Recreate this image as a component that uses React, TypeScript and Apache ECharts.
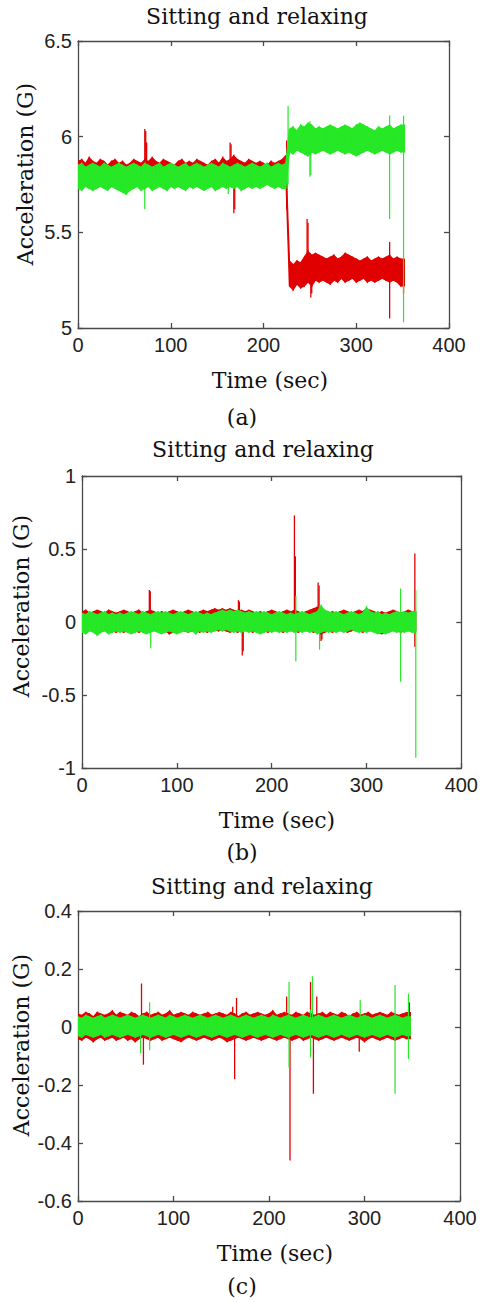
import React, { useEffect, useRef } from "react";
import * as echarts from "echarts";

// time step (seconds) between envelope samples; each sample gives a local max and min
const BIN_SEC = 4;

// ---------- Panel (a): local max / min per 4-s step (G) ----------
const A_RED_HI = [
  5.87, 5.88, 5.86, 5.89, 5.87, 5.86, 5.88, 5.87, 5.85, 5.87, 5.88,
  5.86, 5.87, 5.85, 5.86, 5.88, 5.87, 5.86, 5.88, 5.87, 5.89, 5.87,
  5.86, 5.88, 5.87, 5.86, 5.85, 5.87, 5.88, 5.86, 5.87, 5.86, 5.88,
  5.87, 5.86, 5.85, 5.87, 5.88, 5.86, 5.89, 5.87, 5.88, 5.9, 5.88,
  5.87, 5.86, 5.88, 5.87, 5.86, 5.87, 5.86, 5.85, 5.87, 5.86, 5.87,
  5.88, 5.9, 5.35, 5.33, 5.35, 5.34, 5.37, 5.4, 5.38, 5.39, 5.38,
  5.37, 5.36, 5.37, 5.38, 5.36, 5.37, 5.39, 5.38, 5.37, 5.36, 5.35,
  5.36, 5.37, 5.35, 5.36, 5.37, 5.36, 5.37, 5.38, 5.36, 5.37, 5.36,
];
const A_RED_LO = [
  5.8, 5.81, 5.8, 5.79, 5.81, 5.8, 5.8, 5.79, 5.81, 5.8, 5.81,
  5.8, 5.79, 5.8, 5.81, 5.8, 5.79, 5.8, 5.81, 5.8, 5.8, 5.79,
  5.81, 5.8, 5.79, 5.8, 5.81, 5.8, 5.8, 5.79, 5.81, 5.8, 5.8,
  5.79, 5.8, 5.81, 5.8, 5.79, 5.8, 5.81, 5.8, 5.8, 5.79, 5.81,
  5.8, 5.79, 5.8, 5.81, 5.8, 5.8, 5.79, 5.8, 5.81, 5.8, 5.8,
  5.8, 5.8, 5.22, 5.2, 5.23, 5.21, 5.22, 5.24, 5.22, 5.25, 5.24,
  5.25, 5.24, 5.23, 5.25, 5.24, 5.26, 5.24, 5.25, 5.26, 5.24, 5.25,
  5.26, 5.24, 5.25, 5.24, 5.25, 5.26, 5.25, 5.24, 5.25, 5.24, 5.22,
];
const A_GREEN_HI = [
  5.85, 5.86, 5.84, 5.85, 5.86, 5.85, 5.84, 5.86, 5.85, 5.84, 5.85,
  5.86, 5.85, 5.84, 5.85, 5.86, 5.85, 5.84, 5.86, 5.85, 5.84, 5.85,
  5.86, 5.84, 5.85, 5.86, 5.85, 5.84, 5.85, 5.86, 5.84, 5.85, 5.86,
  5.85, 5.84, 5.85, 5.86, 5.85, 5.84, 5.86, 5.85, 5.84, 5.85, 5.86,
  5.85, 5.84, 5.85, 5.86, 5.85, 5.84, 5.85, 5.86, 5.84, 5.85, 5.86,
  5.85, 5.86, 6.04, 6.05, 6.03, 6.06, 6.05, 6.07, 6.06, 6.04, 6.05,
  6.04, 6.05, 6.06, 6.05, 6.04, 6.05, 6.06, 6.05, 6.04, 6.06, 6.07,
  6.06, 6.05, 6.04, 6.03, 6.05, 6.04, 6.05, 6.06, 6.04, 6.05, 6.06,
];
const A_GREEN_LO = [
  5.73, 5.72, 5.74, 5.73, 5.72, 5.73, 5.74, 5.73, 5.72, 5.74, 5.73,
  5.72, 5.71, 5.7, 5.72, 5.73, 5.74, 5.72, 5.73, 5.74, 5.72, 5.73,
  5.74, 5.73, 5.72, 5.74, 5.73, 5.74, 5.73, 5.72, 5.74, 5.73, 5.74,
  5.73, 5.72, 5.73, 5.74, 5.72, 5.73, 5.74, 5.73, 5.74, 5.73, 5.74,
  5.72, 5.73, 5.74, 5.73, 5.74, 5.73, 5.74, 5.75, 5.74, 5.73, 5.74,
  5.73, 5.73, 5.92, 5.91, 5.93, 5.92, 5.91, 5.9, 5.92, 5.91, 5.92,
  5.93, 5.92, 5.91, 5.92, 5.93, 5.92, 5.91, 5.92, 5.91, 5.9, 5.91,
  5.92, 5.93, 5.92, 5.91, 5.92, 5.93, 5.92, 5.91, 5.92, 5.93, 5.92,
];
// isolated excursions: [time s, low G, high G]
const A_RED_SPIKES = [
  [72, 5.8, 6.04], [73, 5.8, 6.03], [74, 5.8, 5.97],
  [164, 5.86, 5.97], [165, 5.86, 5.96], [168, 5.6, 5.8], [169, 5.62, 5.8],
  [225, 5.62, 5.98], [247, 5.26, 5.57], [248, 5.25, 5.55],
  [251, 5.16, 5.3], [252, 5.18, 5.3], [336, 5.05, 5.45], [351, 5.18, 5.36],
];
const A_GREEN_SPIKES = [
  [72, 5.62, 5.85], [162, 5.7, 5.8], [226.5, 5.75, 6.16],
  [250, 5.79, 6.08], [251, 5.8, 6.05], [336, 5.57, 6.11], [351, 5.03, 6.11],
];

// ---------- Panel (b) ----------
const B_RED_HI = [
  0.07, 0.08, 0.06, 0.07, 0.08, 0.07, 0.06, 0.08, 0.07, 0.06, 0.07,
  0.08, 0.07, 0.06, 0.07, 0.08, 0.06, 0.07, 0.08, 0.07, 0.06, 0.07,
  0.06, 0.07, 0.08, 0.07, 0.06, 0.07, 0.08, 0.07, 0.06, 0.07, 0.08,
  0.07, 0.08, 0.09, 0.08, 0.09, 0.08, 0.09, 0.08, 0.07, 0.08, 0.07,
  0.08, 0.07, 0.06, 0.07, 0.06, 0.07, 0.08, 0.07, 0.06, 0.07, 0.08,
  0.07, 0.08, 0.07, 0.06, 0.07, 0.08, 0.09, 0.1, 0.08, 0.07, 0.06,
  0.07, 0.06, 0.07, 0.08, 0.07, 0.06, 0.07, 0.08, 0.07, 0.09, 0.08,
  0.07, 0.06, 0.07, 0.06, 0.07, 0.08, 0.07, 0.06, 0.07, 0.08, 0.07,
];
const B_RED_LO = [
  -0.06, -0.07, -0.05, -0.06, -0.07, -0.06, -0.05, -0.07, -0.06, -0.07, -0.06,
  -0.07, -0.06, -0.05, -0.06, -0.07, -0.06, -0.07, -0.06, -0.05, -0.06, -0.07,
  -0.06, -0.08, -0.07, -0.06, -0.05, -0.06, -0.07, -0.06, -0.05, -0.07, -0.06,
  -0.07, -0.06, -0.05, -0.06, -0.05, -0.06, -0.07, -0.06, -0.07, -0.06, -0.05,
  -0.06, -0.07, -0.06, -0.05, -0.06, -0.07, -0.06, -0.05, -0.06, -0.07, -0.06,
  -0.05, -0.06, -0.07, -0.06, -0.05, -0.06, -0.07, -0.06, -0.08, -0.07, -0.06,
  -0.07, -0.06, -0.05, -0.06, -0.07, -0.06, -0.05, -0.06, -0.07, -0.06, -0.05,
  -0.06, -0.07, -0.08, -0.07, -0.06, -0.05, -0.06, -0.07, -0.06, -0.05, -0.06,
];
const B_GREEN_HI = [
  0.06, 0.05, 0.07, 0.06, 0.05, 0.06, 0.07, 0.05, 0.06, 0.05, 0.06,
  0.05, 0.06, 0.07, 0.06, 0.05, 0.07, 0.06, 0.05, 0.06, 0.07, 0.06,
  0.07, 0.06, 0.05, 0.06, 0.07, 0.06, 0.05, 0.06, 0.07, 0.06, 0.05,
  0.06, 0.05, 0.06, 0.07, 0.08, 0.07, 0.08, 0.07, 0.08, 0.07, 0.06,
  0.07, 0.06, 0.07, 0.06, 0.07, 0.06, 0.05, 0.06, 0.07, 0.06, 0.05,
  0.06, 0.05, 0.06, 0.07, 0.06, 0.05, 0.06, 0.07, 0.11, 0.08, 0.07,
  0.06, 0.07, 0.06, 0.05, 0.06, 0.07, 0.06, 0.05, 0.06, 0.1, 0.07,
  0.06, 0.07, 0.05, 0.06, 0.05, 0.06, 0.07, 0.06, 0.07, 0.06, 0.07,
];
const B_GREEN_LO = [
  -0.07, -0.08, -0.06, -0.07, -0.09, -0.07, -0.06, -0.08, -0.07, -0.06, -0.07,
  -0.06, -0.07, -0.08, -0.07, -0.06, -0.07, -0.08, -0.07, -0.06, -0.07, -0.08,
  -0.07, -0.06, -0.07, -0.08, -0.07, -0.06, -0.07, -0.06, -0.08, -0.06, -0.07,
  -0.06, -0.07, -0.06, -0.05, -0.06, -0.05, -0.06, -0.07, -0.06, -0.07, -0.06,
  -0.07, -0.06, -0.07, -0.08, -0.07, -0.06, -0.07, -0.06, -0.07, -0.06, -0.07,
  -0.06, -0.07, -0.06, -0.07, -0.06, -0.07, -0.06, -0.08, -0.07, -0.06, -0.07,
  -0.06, -0.07, -0.06, -0.07, -0.06, -0.05, -0.06, -0.07, -0.06, -0.07, -0.06,
  -0.07, -0.08, -0.07, -0.08, -0.07, -0.06, -0.07, -0.06, -0.07, -0.06, -0.07,
];
const B_RED_SPIKES = [
  [71, 0, 0.22], [72, 0, 0.21], [165, 0, 0.15], [166, 0, 0.14],
  [169, -0.23, 0], [170, -0.2, 0], [224, 0, 0.73], [225, 0, 0.45],
  [249, 0, 0.27], [250, 0, 0.25], [252, -0.13, 0], [253, -0.12, 0],
  [351, -0.17, 0.47],
];
const B_GREEN_SPIKES = [
  [72.5, -0.18, 0.05], [225.5, -0.27, 0.18], [250.5, -0.19, 0.1],
  [336, -0.41, 0.23], [352, -0.93, 0.22],
];

// ---------- Panel (c) ----------
const C_RED_HI = [
  0.045, 0.04, 0.05, 0.045, 0.035, 0.05, 0.045, 0.04, 0.045, 0.055, 0.04,
  0.05, 0.045, 0.04, 0.05, 0.045, 0.035, 0.045, 0.05, 0.04, 0.045, 0.05,
  0.04, 0.045, 0.055, 0.04, 0.045, 0.05, 0.045, 0.04, 0.05, 0.045, 0.04,
  0.045, 0.05, 0.04, 0.045, 0.05, 0.045, 0.04, 0.05, 0.045, 0.035, 0.045,
  0.05, 0.04, 0.045, 0.05, 0.045, 0.04, 0.045, 0.055, 0.04, 0.045, 0.05,
  0.045, 0.04, 0.05, 0.045, 0.04, 0.05, 0.045, 0.04, 0.045, 0.05, 0.04,
  0.05, 0.045, 0.04, 0.05, 0.045, 0.035, 0.045, 0.05, 0.04, 0.045, 0.05,
  0.04, 0.045, 0.05, 0.045, 0.04, 0.05, 0.045, 0.04, 0.045, 0.05,
];
const C_RED_LO = [
  -0.04, -0.045, -0.035, -0.04, -0.05, -0.04, -0.035, -0.045, -0.04, -0.035, -0.045,
  -0.04, -0.035, -0.045, -0.04, -0.05, -0.04, -0.035, -0.04, -0.045, -0.04, -0.035,
  -0.045, -0.04, -0.035, -0.04, -0.045, -0.05, -0.04, -0.035, -0.04, -0.045, -0.04,
  -0.035, -0.04, -0.045, -0.04, -0.035, -0.04, -0.05, -0.045, -0.04, -0.035, -0.04,
  -0.045, -0.04, -0.035, -0.04, -0.045, -0.04, -0.035, -0.04, -0.045, -0.04, -0.035,
  -0.04, -0.045, -0.04, -0.035, -0.045, -0.04, -0.035, -0.04, -0.045, -0.04, -0.035,
  -0.04, -0.045, -0.04, -0.035, -0.04, -0.045, -0.04, -0.035, -0.04, -0.05, -0.04,
  -0.035, -0.04, -0.045, -0.04, -0.035, -0.04, -0.045, -0.04, -0.035, -0.04,
];
const C_GREEN_HI = [
  0.035, 0.03, 0.04, 0.035, 0.03, 0.035, 0.04, 0.03, 0.035, 0.04, 0.035,
  0.03, 0.035, 0.04, 0.035, 0.03, 0.035, 0.04, 0.035, 0.03, 0.035, 0.04,
  0.035, 0.03, 0.04, 0.035, 0.03, 0.035, 0.04, 0.035, 0.03, 0.035, 0.04,
  0.035, 0.03, 0.035, 0.04, 0.035, 0.03, 0.035, 0.04, 0.035, 0.03, 0.035,
  0.04, 0.035, 0.03, 0.035, 0.04, 0.035, 0.03, 0.04, 0.035, 0.03, 0.035,
  0.04, 0.035, 0.03, 0.035, 0.04, 0.035, 0.03, 0.035, 0.04, 0.035, 0.03,
  0.035, 0.04, 0.035, 0.03, 0.035, 0.04, 0.035, 0.03, 0.035, 0.04, 0.035,
  0.03, 0.035, 0.04, 0.035, 0.03, 0.035, 0.04, 0.035, 0.03, 0.035,
];
const C_GREEN_LO = [
  -0.03, -0.035, -0.025, -0.03, -0.035, -0.03, -0.025, -0.035, -0.03, -0.025, -0.03,
  -0.035, -0.03, -0.025, -0.03, -0.035, -0.03, -0.025, -0.03, -0.035, -0.03, -0.025,
  -0.03, -0.035, -0.03, -0.025, -0.03, -0.035, -0.03, -0.025, -0.03, -0.035, -0.03,
  -0.025, -0.03, -0.035, -0.03, -0.025, -0.03, -0.035, -0.03, -0.025, -0.03, -0.035,
  -0.03, -0.025, -0.03, -0.035, -0.03, -0.025, -0.03, -0.035, -0.03, -0.025, -0.03,
  -0.035, -0.03, -0.025, -0.03, -0.035, -0.03, -0.025, -0.03, -0.035, -0.03, -0.025,
  -0.03, -0.035, -0.03, -0.025, -0.03, -0.035, -0.03, -0.025, -0.03, -0.035, -0.03,
  -0.025, -0.03, -0.035, -0.03, -0.025, -0.03, -0.035, -0.03, -0.025, -0.03,
];
const C_RED_SPIKES = [
  [66.5, 0, 0.15], [68.5, -0.13, 0], [162, 0, 0.07], [164, -0.18, 0],
  [166, 0, 0.1], [218.5, 0, 0.105], [222, -0.46, 0], [243.5, 0, 0.155],
  [246.5, -0.23, 0], [250, 0, 0.105], [294.5, -0.085, 0], [347, 0, 0.085],
];
const C_GREEN_SPIKES = [
  [65.5, -0.09, 0], [75, -0.08, 0.085], [221, -0.14, 0.155],
  [243.5, -0.105, 0.06], [245.5, 0, 0.175], [295.5, 0, 0.093],
  [332, -0.23, 0.145], [346, -0.11, 0.115],
];

// ---------- axes / text ----------
const X_MIN = 0, X_MAX = 400, X_STEP = 100;
const Y_RANGES = [
  { min: 5, max: 6.5, step: 0.5 },
  { min: -1, max: 1, step: 0.5 },
  { min: -0.6, max: 0.4, step: 0.2 },
];
const TITLE = "Sitting and relaxing";
const X_NAME = "Time (sec)";
const Y_NAME = "Acceleration (G)";
const CAPTIONS = ["(a)", "(b)", "(c)"];

const RED = "#e00000";
const GREEN = "#26e826";
const AXIS = "#4a4a4a";
const SERIF = '"DejaVu Serif", serif';
const SANS = '"Liberation Sans", Arial, sans-serif';

const PANELS = [
  { grid: { left: 78, top: 41, width: 371, height: 287 }, redHi: A_RED_HI, redLo: A_RED_LO, greenHi: A_GREEN_HI, greenLo: A_GREEN_LO, redSp: A_RED_SPIKES, greenSp: A_GREEN_SPIKES,
    titleY: 16, titleX: 257, xNameX: 270, xNameY: 380, capY: 417, yNameX: 25, yNameY: 174 },
  { grid: { left: 82, top: 476, width: 382, height: 292 }, redHi: B_RED_HI, redLo: B_RED_LO, greenHi: B_GREEN_HI, greenLo: B_GREEN_LO, redSp: B_RED_SPIKES, greenSp: B_GREEN_SPIKES,
    titleY: 449, titleX: 263, xNameX: 277, xNameY: 820, capY: 852, yNameX: 21, yNameY: 606 },
  { grid: { left: 78, top: 911, width: 382, height: 290 }, redHi: C_RED_HI, redLo: C_RED_LO, greenHi: C_GREEN_HI, greenLo: C_GREEN_LO, redSp: C_RED_SPIKES, greenSp: C_GREEN_SPIKES,
    titleY: 886, titleX: 262, xNameX: 275, xNameY: 1253, capY: 1286, yNameX: 21, yNameY: 1045 },
];

// envelope segments: [t, lo, hi, next lo, next hi]
function bandData(hi: number[], lo: number[]) {
  return hi.map((h, i) => {
    const j = Math.min(i + 1, hi.length - 1);
    return [i * BIN_SEC, lo[i], h, lo[j], hi[j]];
  });
}

function bandRender(color: string) {
  return (_p: any, api: any) => {
    const t = api.value(0);
    const points = [
      api.coord([t, api.value(2)]),
      api.coord([t + BIN_SEC, api.value(4)]),
      api.coord([t + BIN_SEC, api.value(3)]),
      api.coord([t, api.value(1)]),
    ];
    return {
      type: "polygon",
      shape: { points },
      style: { fill: color, stroke: color, lineWidth: 1.2 },
    };
  };
}

function spikeRender(color: string, w: number) {
  return (_p: any, api: any) => {
    const t = api.value(0);
    const a = api.coord([t, api.value(1)]);
    const b = api.coord([t, api.value(2)]);
    return {
      type: "line",
      shape: { x1: a[0], y1: a[1], x2: b[0], y2: b[1] },
      style: { stroke: color, lineWidth: w },
    };
  };
}

function textEl(text: string, x: number, y: number, rot = 0) {
  return {
    type: "text",
    x,
    y,
    rotation: rot,
    style: {
      text,
      font: `22px ${SERIF}`,
      fill: "#111",
      textAlign: "center",
      textVerticalAlign: "middle",
      align: "center",
      verticalAlign: "middle",
    },
  };
}

export default function App() {
  const ref = useRef<HTMLDivElement>(null);
  useEffect(() => {
    if (!ref.current) return;
    const chart = echarts.init(ref.current, null, { renderer: "svg" });
    const grid: any[] = [];
    const xAxis: any[] = [];
    const yAxis: any[] = [];
    const series: any[] = [];
    const graphic: any[] = [];
    const lineStyle = { color: AXIS, width: 1.3 };
    PANELS.forEach((p, i) => {
      grid.push({ ...p.grid, containLabel: false });
      const yr = Y_RANGES[i];
      const base = i * 2;
      xAxis.push({
        type: "value", gridIndex: i, position: "bottom", min: X_MIN, max: X_MAX, interval: X_STEP,
        axisLine: { show: true, onZero: false, lineStyle },
        axisTick: { show: true, inside: true, length: 5, lineStyle },
        axisLabel: { margin: 7, fontSize: 20, color: "#222", fontFamily: SANS },
        splitLine: { show: false },
      });
      xAxis.push({
        type: "value", gridIndex: i, position: "top", min: X_MIN, max: X_MAX, interval: X_STEP,
        axisLine: { show: true, onZero: false, lineStyle },
        axisTick: { show: true, inside: true, length: 5, lineStyle },
        axisLabel: { show: false },
        splitLine: { show: false },
      });
      yAxis.push({
        type: "value", gridIndex: i, position: "left", min: yr.min, max: yr.max, interval: yr.step,
        axisLine: { show: true, onZero: false, lineStyle },
        axisTick: { show: true, inside: true, length: 5, lineStyle },
        axisLabel: { margin: 6, fontSize: 20, color: "#222", fontFamily: SANS },
        splitLine: { show: false },
      });
      yAxis.push({
        type: "value", gridIndex: i, position: "right", min: yr.min, max: yr.max, interval: yr.step,
        axisLine: { show: true, onZero: false, lineStyle },
        axisTick: { show: true, inside: true, length: 5, lineStyle },
        axisLabel: { show: false },
        splitLine: { show: false },
      });
      const common = { type: "custom", xAxisIndex: base, yAxisIndex: base, silent: true, clip: true, encode: { x: 0, y: [1, 2] } };
      series.push({ ...common, name: "red " + i, renderItem: bandRender(RED), data: bandData(p.redHi, p.redLo) });
      series.push({ ...common, name: "red spikes " + i, renderItem: spikeRender(RED, 1.3), data: p.redSp });
      series.push({ ...common, name: "green " + i, renderItem: bandRender(GREEN), data: bandData(p.greenHi, p.greenLo) });
      series.push({ ...common, name: "green spikes " + i, renderItem: spikeRender(GREEN, 1.2), data: p.greenSp });
      graphic.push(textEl(TITLE, p.titleX, p.titleY));
      graphic.push(textEl(X_NAME, p.xNameX, p.xNameY));
      graphic.push(textEl(CAPTIONS[i], 242, p.capY));
      graphic.push(textEl(Y_NAME, p.yNameX, p.yNameY, Math.PI / 2));
    });
    chart.setOption({
      animation: false,
      backgroundColor: "#ffffff",
      grid,
      xAxis,
      yAxis,
      series,
      graphic,
    });
    return () => chart.dispose();
  }, []);
  return (
    <div
      ref={ref}
      style={{ position: "absolute", left: 0, top: 0, width: 481, height: 1302 }}
    />
  );
}
